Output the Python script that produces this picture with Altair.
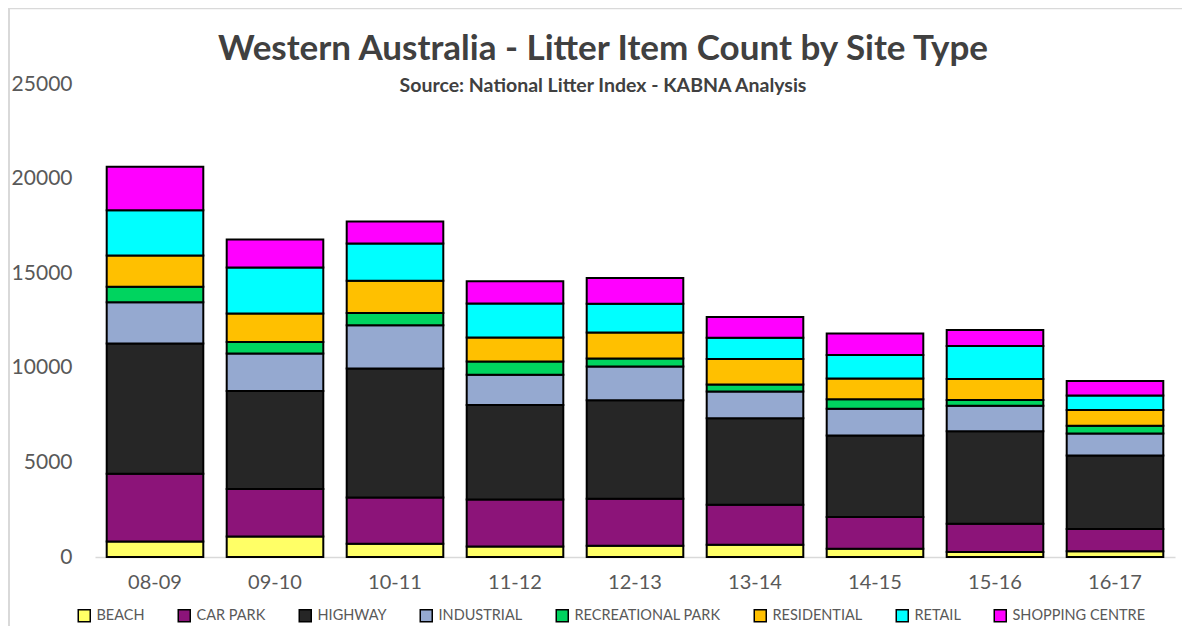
import altair as alt
import pandas as pd

years = ["08-09", "09-10", "10-11", "11-12", "12-13", "13-14", "14-15", "15-16", "16-17"]
site_types = ["BEACH", "CAR PARK", "HIGHWAY", "INDUSTRIAL", "RECREATIONAL PARK",
              "RESIDENTIAL", "RETAIL", "SHOPPING CENTRE"]
colors = ["#FFFF66", "#8C1479", "#262626", "#95A9D0", "#00D45F", "#FFC000", "#00FFFF", "#FF00FF"]

beach = [820, 1090, 700, 560, 600, 650, 440, 270, 300]
car_park = [3580, 2500, 2450, 2480, 2480, 2110, 1670, 1490, 1180]
highway = [6880, 5180, 6810, 5000, 5210, 4580, 4310, 4880, 3890]
industrial = [2190, 1990, 2290, 1590, 1780, 1410, 1410, 1360, 1160]
recreational_park = [820, 600, 640, 700, 420, 370, 510, 300, 410]
residential = [1640, 1510, 1710, 1270, 1370, 1340, 1090, 1110, 830]
retail = [2400, 2430, 1970, 1800, 1520, 1130, 1250, 1740, 770]
shopping_centre = [2300, 1480, 1160, 1180, 1370, 1090, 1130, 850, 760]

series = [beach, car_park, highway, industrial, recreational_park,
          residential, retail, shopping_centre]

rows = []
for i, (name, vals) in enumerate(zip(site_types, series)):
    for y, v in zip(years, vals):
        rows.append({"year": y, "site": name, "count": v, "idx": i})
df = pd.DataFrame(rows)

FONT = "Lato"

bars = alt.Chart(df).mark_bar(stroke="black", strokeWidth=2).encode(
    x=alt.X("year:N", sort=years, title=None,
            scale=alt.Scale(paddingInner=0.195, paddingOuter=0.0975),
            axis=alt.Axis(labelAngle=0, labelFontSize=20, labelColor="#595959",
                          labelFont=FONT, ticks=False, domainColor="#D9D9D9",
                          domainWidth=1.5, labelPadding=15)),
    y=alt.Y("count:Q", stack="zero", title=None,
            scale=alt.Scale(domain=[0, 25000], nice=False),
            axis=alt.Axis(values=[0, 5000, 10000, 15000, 20000, 25000], format="d",
                          grid=False, domain=False, ticks=False, labelFontSize=21,
                          labelColor="#595959", labelFont=FONT, labelPadding=23)),
    color=alt.Color("site:N", sort=site_types,
                    scale=alt.Scale(domain=site_types, range=colors),
                    legend=alt.Legend(title=None, orient="none", direction="horizontal",
                                      legendX=-18, legendY=524, padding=0,
                                      symbolType="square",
                                      symbolSize=144, symbolStrokeColor="black",
                                      symbolStrokeWidth=1.5, labelFontSize=14.5,
                                      labelFont=FONT, labelColor="#595959",
                                      labelOffset=5, columnPadding=30,
                                      labelLimit=300, symbolOpacity=1)),
    order=alt.Order("idx:Q", sort="ascending"),
)

frame_df = pd.DataFrame({"k": [0]})
left_border = alt.Chart(frame_df).mark_rule(color="#D9D9D9", strokeWidth=2).encode(
    x=alt.value(-86), y=alt.value(-76), y2=alt.value(542)
)
top_border = alt.Chart(frame_df).mark_rule(color="#D9D9D9", strokeWidth=1.5).encode(
    x=alt.value(-87), x2=alt.value(1087), y=alt.value(-75.5)
)

chart = alt.layer(left_border, top_border, bars).properties(
    width=1080,
    height=473,
    title=alt.TitleParams(
        text="Western Australia  - Litter Item Count by Site Type",
        subtitle="Source: National Litter Index - KABNA Analysis",
        font=FONT, fontSize=35, fontWeight="bold", color="#404040",
        subtitleFont=FONT, subtitleFontSize=19.5, subtitleFontWeight="bold",
        subtitleColor="#404040", anchor="middle", dx=-32, dy=92,
        subtitlePadding=10,
    ),
    autosize=alt.AutoSizeParams(type="none"),
    padding={"left": 87, "top": 76, "right": 7, "bottom": 69},
).configure_view(stroke=None)

chart.save("out.html", embed_options={"renderer": "svg", "actions": False})
